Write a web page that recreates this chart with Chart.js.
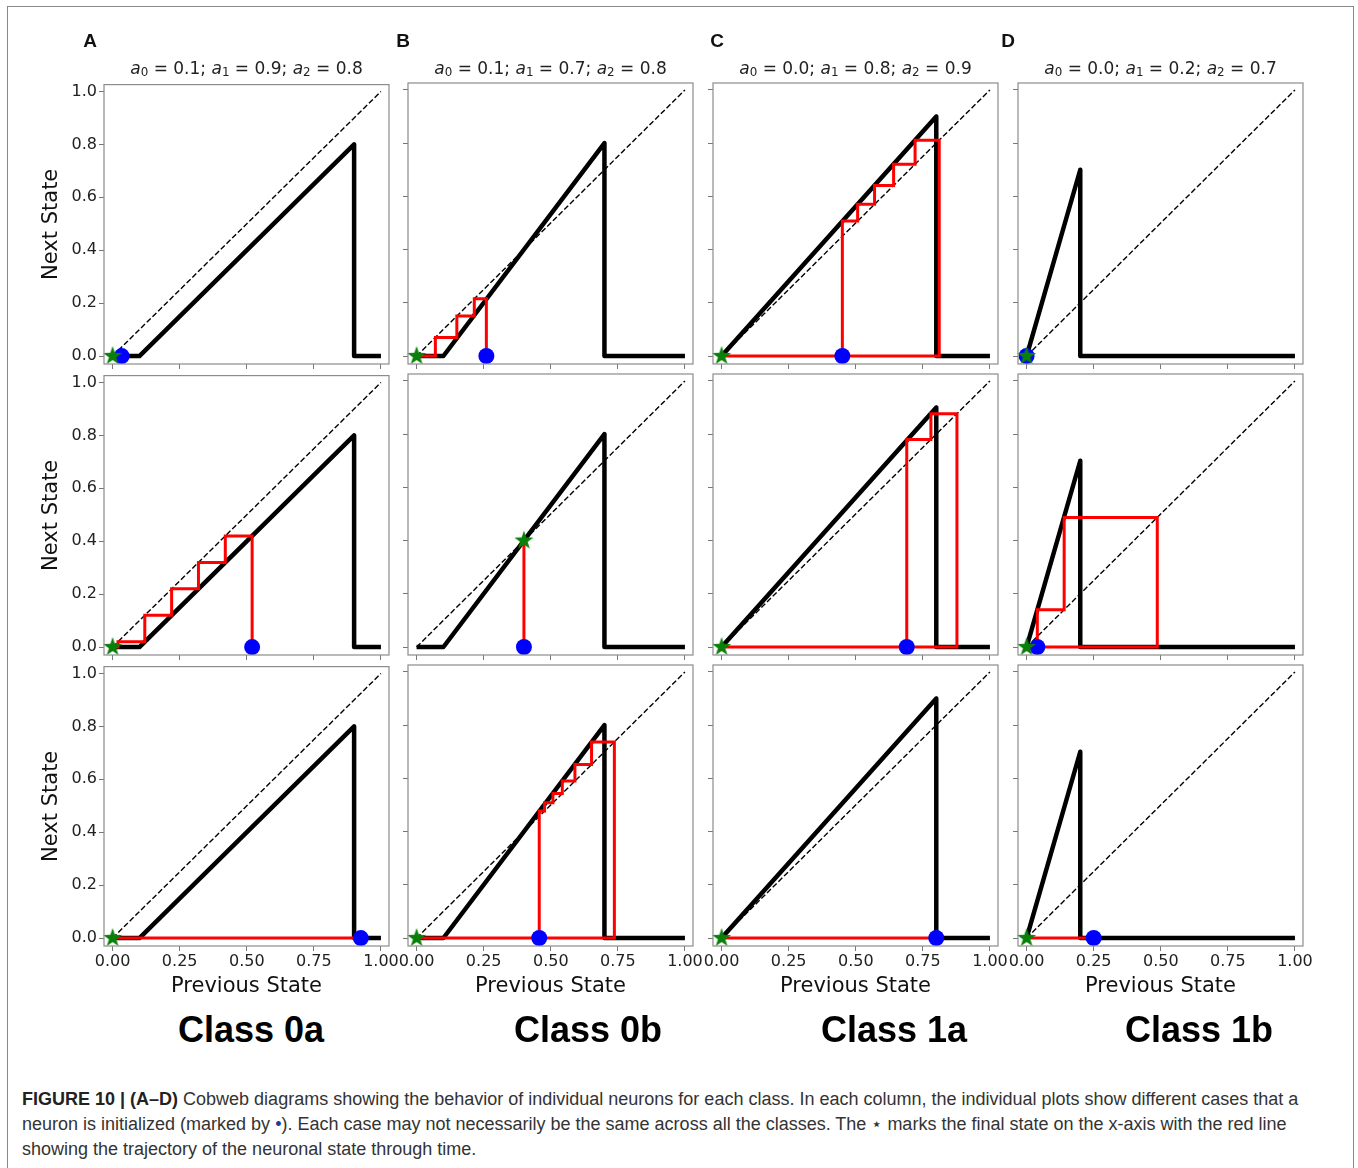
<!DOCTYPE html>
<html>
<head>
<meta charset="utf-8">
<script src="https://cdn.jsdelivr.net/npm/chart.js@4.4.0/dist/chart.umd.min.js"></script>
<style>
  body { margin: 0; background: #fff; }
  #fig { position: relative; width: 1358px; height: 1168px; overflow: hidden; font-family: "DejaVu Sans", sans-serif; }
  #frame { position: absolute; left: 7px; top: 6px; width: 1347px; height: 1175px; border: 1px solid #888; box-sizing: border-box; }
  canvas { position: absolute; }
  .letter { position: absolute; top: 31px; font: bold 19px "Liberation Sans", Arial, sans-serif; line-height: 19px; color: #111; transform: translateX(-50%); }
  .ptitle { position: absolute; top: 60px; font-size: 17px; line-height: 17px; color: #222; white-space: nowrap; transform: translateX(-50%); }
  .ptitle i { font-style: italic; }
  .ptitle sub { font-size: 0.7em; position: relative; top: 0.15em; vertical-align: baseline; line-height: 0; }
  .cls { position: absolute; top: 1012px; font: bold 36px "Liberation Sans", Arial, sans-serif; line-height: 36px; color: #000; transform: translateX(-50%); white-space: nowrap; }
  #caption { position: absolute; left: 22px; top: 1087px; font: 18px "Liberation Sans", Arial, sans-serif; line-height: 25px; color: #333; white-space: nowrap; }
  #caption b { color: #222; }
  #caption .dot { color: #1a3c9c; }
</style>
</head>
<body>
<div id="fig">
  <div id="frame"></div>
</div>
<script>
// Parameters read from the column titles
const colLetters = ['A', 'B', 'C', 'D'];
const a0 = [0.1, 0.1, 0.0, 0.0];
const a1 = [0.9, 0.7, 0.8, 0.2];
const a2 = [0.8, 0.8, 0.9, 0.7];
const classNames = ['Class 0a', 'Class 0b', 'Class 1a', 'Class 1b'];

// Successive neuron states (first = initial, last = final) for each row of a column
const statesA = [[0.034, 0], [0.52, 0.42, 0.32, 0.22, 0.12, 0.02, 0], [0.925, 0]];
const statesB = [[0.26, 0.215, 0.15, 0.07, 0], [0.4, 0.4], [0.457, 0.477, 0.508, 0.543, 0.59, 0.652, 0.737, 0]];
const statesC = [[0.45, 0.507, 0.57, 0.641, 0.721, 0.811, 0], [0.69, 0.78, 0.877, 0], [0.8, 0]];
const statesD = [[0, 0], [0.04, 0.14, 0.487, 0], [0.25, 0]];
const allStates = [statesA, statesB, statesC, statesD];

const xTicks = [0, 0.25, 0.5, 0.75, 1];
const xTickLabels = ['0.00', '0.25', '0.50', '0.75', '1.00'];
const yTicks = [0, 0.2, 0.4, 0.6, 0.8, 1];
const yTickLabels = ['0.0', '0.2', '0.4', '0.6', '0.8', '1.0'];

// Layout
const colLeft = [104, 408, 713, 1018];
const rowTop = [81, 372, 663];
const boxW = 285, boxH = 283;
const fig = document.getElementById('fig');

// filled star marker
const starImg = document.createElement('canvas');
starImg.width = starImg.height = 22;
const sc = starImg.getContext('2d');
sc.beginPath();
for (let i = 0; i < 10; i++) {
    const r = i % 2 ? 3.9 : 10;
    const ang = -Math.PI / 2 + i * Math.PI / 5;
    sc.lineTo(11 + r * Math.cos(ang), 11 + r * Math.sin(ang));
}
sc.closePath();
sc.fillStyle = '#0a800a';
sc.fill();

// axes box
const framePlugin = {
    id: 'frame',
    afterDatasetsDraw(chart) {
        const a = chart.chartArea;
        const ctx = chart.ctx;
        ctx.save();
        ctx.strokeStyle = '#8c8c8c';
        ctx.lineWidth = 1.2;
        ctx.strokeRect(a.left, a.top, a.right - a.left, a.bottom - a.top);
        ctx.restore();
    }
};

function cobweb(s) {
    const pts = [{ x: s[0], y: 0 }];
    for (let i = 0; i < s.length - 1; i++) {
        pts.push({ x: s[i], y: s[i + 1] });
        pts.push({ x: s[i + 1], y: s[i + 1] });
    }
    return pts;
}

function makePanel(col, row) {
    const padL = col === 0 ? 100 : 12;
    const padB = row === 2 ? 60 : 12;
    const padT = 8, padR = 14;
    const cv = document.createElement('canvas');
    cv.width = padL + boxW + padR;
    cv.height = padT + boxH + padB;
    cv.style.left = (colLeft[col] - padL) + 'px';
    cv.style.top = (rowTop[row] - padT) + 'px';
    fig.appendChild(cv);

    const s = allStates[col][row];
    const last = s[s.length - 1];
    const fn = [
        { x: 0, y: 0 }, { x: a0[col], y: 0 }, { x: a1[col], y: a2[col] },
        { x: a1[col], y: 0 }, { x: 1, y: 0 }
    ];

    new Chart(cv, {
        type: 'scatter',
        data: {
            datasets: [
                { data: [{ x: last, y: last }], pointStyle: starImg, pointRadius: 9, clip: false },
                { data: [{ x: s[0], y: 0 }], pointStyle: 'circle', pointRadius: 8, backgroundColor: '#0000ff', borderWidth: 0, clip: false },
                { data: cobweb(s), showLine: true, borderColor: '#ff0000', borderWidth: 3, pointRadius: 0, borderJoinStyle: 'miter', clip: false },
                { data: fn, showLine: true, borderColor: '#000', borderWidth: 4.5, pointRadius: 0, borderJoinStyle: 'round', clip: false },
                { data: [{ x: 0, y: 0 }, { x: 1, y: 1 }], showLine: true, borderColor: '#000', borderWidth: 1.4, borderDash: [5.5, 2.5], pointRadius: 0 }
            ]
        },
        options: {
            responsive: false,
            animation: false,
            events: [],
            layout: { padding: { top: padT, right: padR, left: 0, bottom: 0 } },
            plugins: { legend: { display: false }, tooltip: { enabled: false } },
            scales: {
                x: {
                    type: 'linear', min: -0.032, max: 1.03,
                    afterBuildTicks: (sc) => { sc.ticks = xTicks.map(v => ({ value: v })); },
                    afterFit: (sc) => { sc.height = padB; },
                    grid: { drawOnChartArea: false, drawTicks: true, tickLength: 5, color: '#777' },
                    border: { display: false },
                    ticks: {
                        display: row === 2, autoSkip: false, maxRotation: 0, padding: 1,
                        callback: (v, i) => xTickLabels[i],
                        font: { family: 'DejaVu Sans', size: 16 }, color: '#222'
                    },
                    title: {
                        display: row === 2, text: 'Previous State',
                        font: { family: 'DejaVu Sans', size: 21 }, color: '#111',
                        padding: { top: 0, bottom: 7 }
                    }
                },
                y: {
                    type: 'linear', min: -0.03, max: 1.026,
                    afterBuildTicks: (sc) => { sc.ticks = yTicks.map(v => ({ value: v })); },
                    afterFit: (sc) => { sc.width = padL; },
                    grid: { drawOnChartArea: false, drawTicks: true, tickLength: 5, color: '#777' },
                    border: { display: false },
                    ticks: {
                        display: col === 0, autoSkip: false, padding: 2,
                        callback: (v, i) => yTickLabels[i],
                        font: { family: 'DejaVu Sans', size: 16 }, color: '#222'
                    },
                    title: {
                        display: col === 0, text: 'Next State',
                        font: { family: 'DejaVu Sans', size: 21 }, color: '#111',
                        padding: { top: 35, bottom: 0 }
                    }
                }
            }
        },
        plugins: [framePlugin]
    });
}

for (let c = 0; c < 4; c++) {
    for (let r = 0; r < 3; r++) makePanel(c, r);

    const mid = colLeft[c] + boxW / 2;
    const t = document.createElement('div');
    t.className = 'ptitle';
    t.style.left = mid + 'px';
    t.innerHTML = '<i>a</i><sub>0</sub> = ' + a0[c].toFixed(1) + '; <i>a</i><sub>1</sub> = ' +
        a1[c].toFixed(1) + '; <i>a</i><sub>2</sub> = ' + a2[c].toFixed(1);
    fig.appendChild(t);

    const cls = document.createElement('div');
    cls.className = 'cls';
    cls.style.left = [251, 588, 894, 1199][c] + 'px';
    cls.textContent = classNames[c];
    fig.appendChild(cls);
}

// panel letters
[90, 403, 717, 1008].forEach((x, i) => {
    const d = document.createElement('div');
    d.className = 'letter';
    d.style.left = x + 'px';
    d.textContent = colLetters[i];
    fig.appendChild(d);
});

const cap = document.createElement('div');
cap.id = 'caption';
cap.innerHTML = '<b>FIGURE 10 | (A–D)</b> Cobweb diagrams showing the behavior of individual neurons for each class. In each column, the individual plots show different cases that a<br>' +
    'neuron is initialized (marked by <span class="dot">•</span>). Each case may not necessarily be the same across all the classes. The ⋆ marks the final state on the x-axis with the red line<br>' +
    'showing the trajectory of the neuronal state through time.';
fig.appendChild(cap);
</script>
</body>
</html>
